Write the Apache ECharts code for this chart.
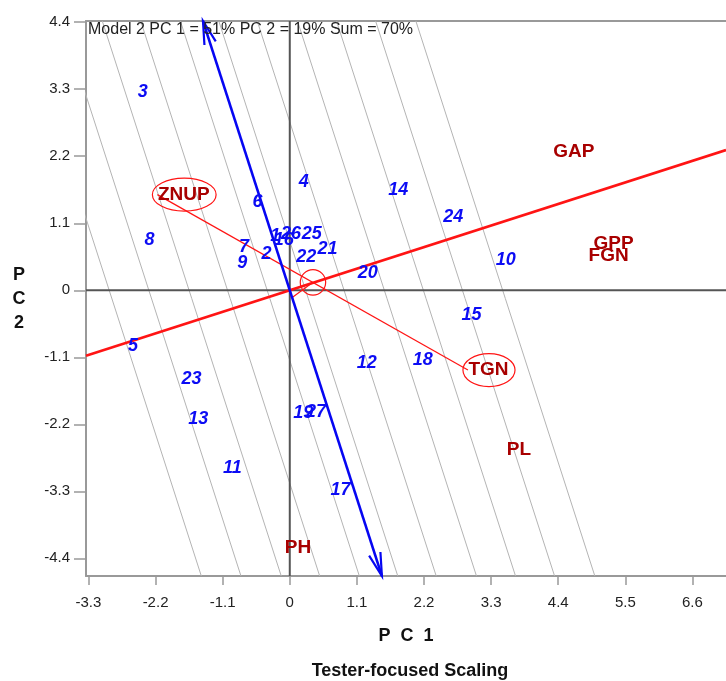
<!DOCTYPE html>
<html><head><meta charset="utf-8">
<script src="https://cdn.jsdelivr.net/npm/echarts@6/dist/echarts.min.js"></script>
<style>html,body{margin:0;padding:0;background:#fff}#c{width:726px;height:681px}</style>
</head><body><div id="c"></div>
<script>
// ---- data ----
const xTicks = [-3.3, -2.2, -1.1, 0, 1.1, 2.2, 3.3, 4.4, 5.5, 6.6];
const yTicks = [-4.4, -3.3, -2.2, -1.1, 0, 1.1, 2.2, 3.3, 4.4];
const xRange = [-3.34, 7.15];
const yRange = [-4.69, 4.42];

const genotypeNames = ['1','2','3','4','5','6','7','8','9','10','11','12','13','14','15','16','17','18','19','20','21','22','23','24','25','26','27'];
const genotypeX = [-0.24,-0.38,-2.41,0.23,-2.57,-0.53,-0.75,-2.30,-0.78,3.54,-0.94,1.26,-1.50,1.78,2.98,-0.10,0.83,2.18,0.22,1.28,0.62,0.27,-1.61,2.68,0.36,0.02,0.43];
const genotypeY = [0.89,0.59,3.26,1.78,-0.92,1.45,0.71,0.83,0.44,0.49,-2.91,-1.20,-2.12,1.65,-0.41,0.82,-3.28,-1.14,-2.02,0.29,0.68,0.54,-1.45,1.20,0.93,0.92,-2.00];

const testerNames = ['GAP','GPP','FGN','TGN','PL','PH','ZNUP'];
const testerX = [4.31, 4.97, 4.89, 2.92, 3.55, -0.09, -2.17];
const testerY = [2.28, 0.77, 0.57, -1.31, -2.62, -4.22, 1.57];
const circledTesters = ['ZNUP', 'TGN'];
const comparedPair = ['ZNUP', 'TGN'];

const aeaSlope = 0.322;               // average-environment axis through origin
const aecCenter = [0.38, 0.13];       // small circle on the AEA
const aecArrow = [[0.04, -0.12], [0.38, 0.13]];
const testerAxis = [-1.423, 4.42, 1.51, -4.69]; // blue axis (two ends)
const guideOffsets = [-2.96, -2.31, -1.65, -1.02, -0.37, 0.26, 0.89, 1.55, 2.19, 2.83, 3.49];
const infoText = 'Model 2 PC 1 = 51% PC 2 = 19% Sum = 70%';

// ---- styles ----
const FONT = 'Liberation Sans, Arial, Helvetica, sans-serif';
const BLUE = '#0606f2', RED = '#ff1414', ENV = '#a80000', GENO = '#0c0cf4';

const ctx = document.createElement('canvas').getContext('2d');
function textW(t, font) { ctx.font = font; return ctx.measureText(t).width; }
const envFont = 'bold 19px ' + FONT;

const chart = echarts.init(document.getElementById('c'), null, {renderer: 'canvas'});

const series = [];
// gray guide lines (parallel to the blue axis)
guideOffsets.forEach(c => {
  series.push({
    type: 'line', silent: true, symbol: 'none', clip: true, z: 1,
    lineStyle: {color: '#b4b4b4', width: 1},
    data: [[c - aeaSlope * yRange[1], yRange[1]], [c - aeaSlope * yRange[0], yRange[0]]]
  });
});
// zero lines
series.push({type: 'line', silent: true, symbol: 'none', z: 2, lineStyle: {color: '#555', width: 2},
  data: [[0, yRange[0]], [0, yRange[1]]]});
series.push({type: 'line', silent: true, symbol: 'none', z: 2, lineStyle: {color: '#555', width: 2},
  data: [[xRange[0], 0], [xRange[1], 0]]});
// AEA red thick line
series.push({type: 'line', silent: true, symbol: 'none', z: 3, lineStyle: {color: RED, width: 2.6},
  data: [[xRange[0], aeaSlope * xRange[0]], [xRange[1], aeaSlope * xRange[1]]]});
// line joining compared testers
const ia = testerNames.indexOf(comparedPair[0]), ib = testerNames.indexOf(comparedPair[1]);
series.push({type: 'line', silent: true, symbol: 'none', z: 3, lineStyle: {color: RED, width: 1.2},
  data: [[testerX[ia], testerY[ia]], [testerX[ib], testerY[ib]]]});
series.push({type: 'line', silent: true, symbol: 'none', z: 3, lineStyle: {color: RED, width: 1.2},
  data: aecArrow});
// small circle
series.push({type: 'custom', silent: true, z: 3, data: [aecCenter],
  renderItem: (p, api) => {
    const c = api.coord([api.value(0), api.value(1)]);
    return {type: 'circle', shape: {cx: c[0], cy: c[1], r: 12.7}, style: {fill: 'none', stroke: RED, lineWidth: 1.2}};
  }});
// blue axis with open arrowheads
series.push({type: 'custom', silent: true, z: 4, data: [testerAxis],
  encode: {x: [0, 2], y: [1, 3]},
  renderItem: (p, api) => {
    const p1 = api.coord([api.value(0), api.value(1)]);
    const p2 = api.coord([api.value(2), api.value(3)]);
    const children = [{type: 'line', shape: {x1: p1[0], y1: p1[1], x2: p2[0], y2: p2[1]},
      style: {stroke: BLUE, lineWidth: 2.5}}];
    [[p2, p1], [p1, p2]].forEach(([from, tip]) => {
      const dx = tip[0] - from[0], dy = tip[1] - from[1], L = Math.hypot(dx, dy);
      const ux = dx / L, uy = dy / L, len = 24, a = 0.25;
      const b = s => {
        const cs = Math.cos(s * a), sn = Math.sin(s * a);
        const rx = ux * cs - uy * sn, ry = ux * sn + uy * cs;
        return [tip[0] - len * rx, tip[1] - len * ry];
      };
      children.push({type: 'polyline', shape: {points: [b(1), tip, b(-1)]},
        style: {stroke: BLUE, lineWidth: 2.2, fill: null}});
    });
    return {type: 'group', children};
  }});
// ellipses around circled testers
series.push({type: 'custom', silent: true, z: 5,
  data: circledTesters.map(n => { const i = testerNames.indexOf(n); return [testerX[i], testerY[i], i]; }),
  renderItem: (p, api) => {
    const c = api.coord([api.value(0), api.value(1)]);
    const w = textW(testerNames[api.value(2)], envFont);
    return {type: 'ellipse', shape: {cx: c[0] + w / 2 + 1, cy: c[1], rx: w / 2 + 6, ry: 16.5},
      style: {fill: 'none', stroke: RED, lineWidth: 1.2}};
  }});
// genotype labels
series.push({type: 'scatter', silent: true, z: 6, symbolSize: 1, itemStyle: {color: 'rgba(0,0,0,0)'},
  data: genotypeNames.map((n, i) => ({name: n, value: [genotypeX[i], genotypeY[i]]})),
  label: {show: true, position: 'inside', formatter: '{b}', color: GENO, opacity: 1,
    textBorderWidth: 0, textShadowBlur: 0,
    fontFamily: FONT, fontSize: 18, fontWeight: 'bold', fontStyle: 'italic'}});
// tester labels
series.push({type: 'scatter', silent: true, z: 7, symbolSize: 1, itemStyle: {color: 'rgba(0,0,0,0)'},
  data: testerNames.map((n, i) => ({name: n, value: [testerX[i], testerY[i]]})),
  label: {show: true, position: 'right', distance: 0, formatter: '{b}', color: ENV, opacity: 1,
    textBorderWidth: 0, textShadowBlur: 0,
    fontFamily: FONT, fontSize: 19, fontWeight: 'bold'}});

const axisGray = '#999';
chart.setOption({
  animation: false,
  grid: {left: 86, right: 0, top: 21, bottom: 105, containLabel: false},
  xAxis: [{
    type: 'value', min: xRange[0], max: xRange[1], position: 'bottom',
    axisLine: {show: true, onZero: false, lineStyle: {color: axisGray, width: 2}},
    axisTick: {show: true, length: 9, customValues: xTicks, lineStyle: {color: axisGray, width: 1.5}},
    axisLabel: {customValues: xTicks, margin: 19, fontSize: 15, color: '#222', fontFamily: FONT},
    splitLine: {show: false},
    name: 'P  C  1', nameLocation: 'middle', nameGap: 51,
    nameTextStyle: {fontFamily: FONT, fontSize: 18, fontWeight: 'bold', color: '#111'}
  }, {
    type: 'value', min: xRange[0], max: xRange[1], position: 'top',
    axisLine: {show: true, onZero: false, lineStyle: {color: axisGray, width: 2}},
    axisTick: {show: false}, axisLabel: {show: false}, splitLine: {show: false}
  }],
  yAxis: {
    type: 'value', min: yRange[0], max: yRange[1], position: 'left',
    axisLine: {show: true, onZero: false, lineStyle: {color: axisGray, width: 2}},
    axisTick: {show: true, length: 12, customValues: yTicks, lineStyle: {color: axisGray, width: 1.5}},
    axisLabel: {customValues: yTicks, margin: 16, fontSize: 15, color: '#222', fontFamily: FONT},
    splitLine: {show: false}
  },
  graphic: [
    {type: 'text', left: 88, top: 22, z: 100,
      style: {text: infoText, font: '16px ' + FONT, fill: '#222'}},
    {type: 'text', x: 410, y: 671, z: 100,
      style: {text: 'Tester-focused Scaling', font: 'bold 18px ' + FONT, fill: '#111',
        textAlign: 'center', textVerticalAlign: 'middle'}},
    {type: 'text', x: 19, y: 299, z: 100,
      style: {text: 'P\nC\n2', font: 'bold 18px ' + FONT, fill: '#111', lineHeight: 24,
        textAlign: 'center', textVerticalAlign: 'middle'}}
  ],
  series
});
</script></body></html>
